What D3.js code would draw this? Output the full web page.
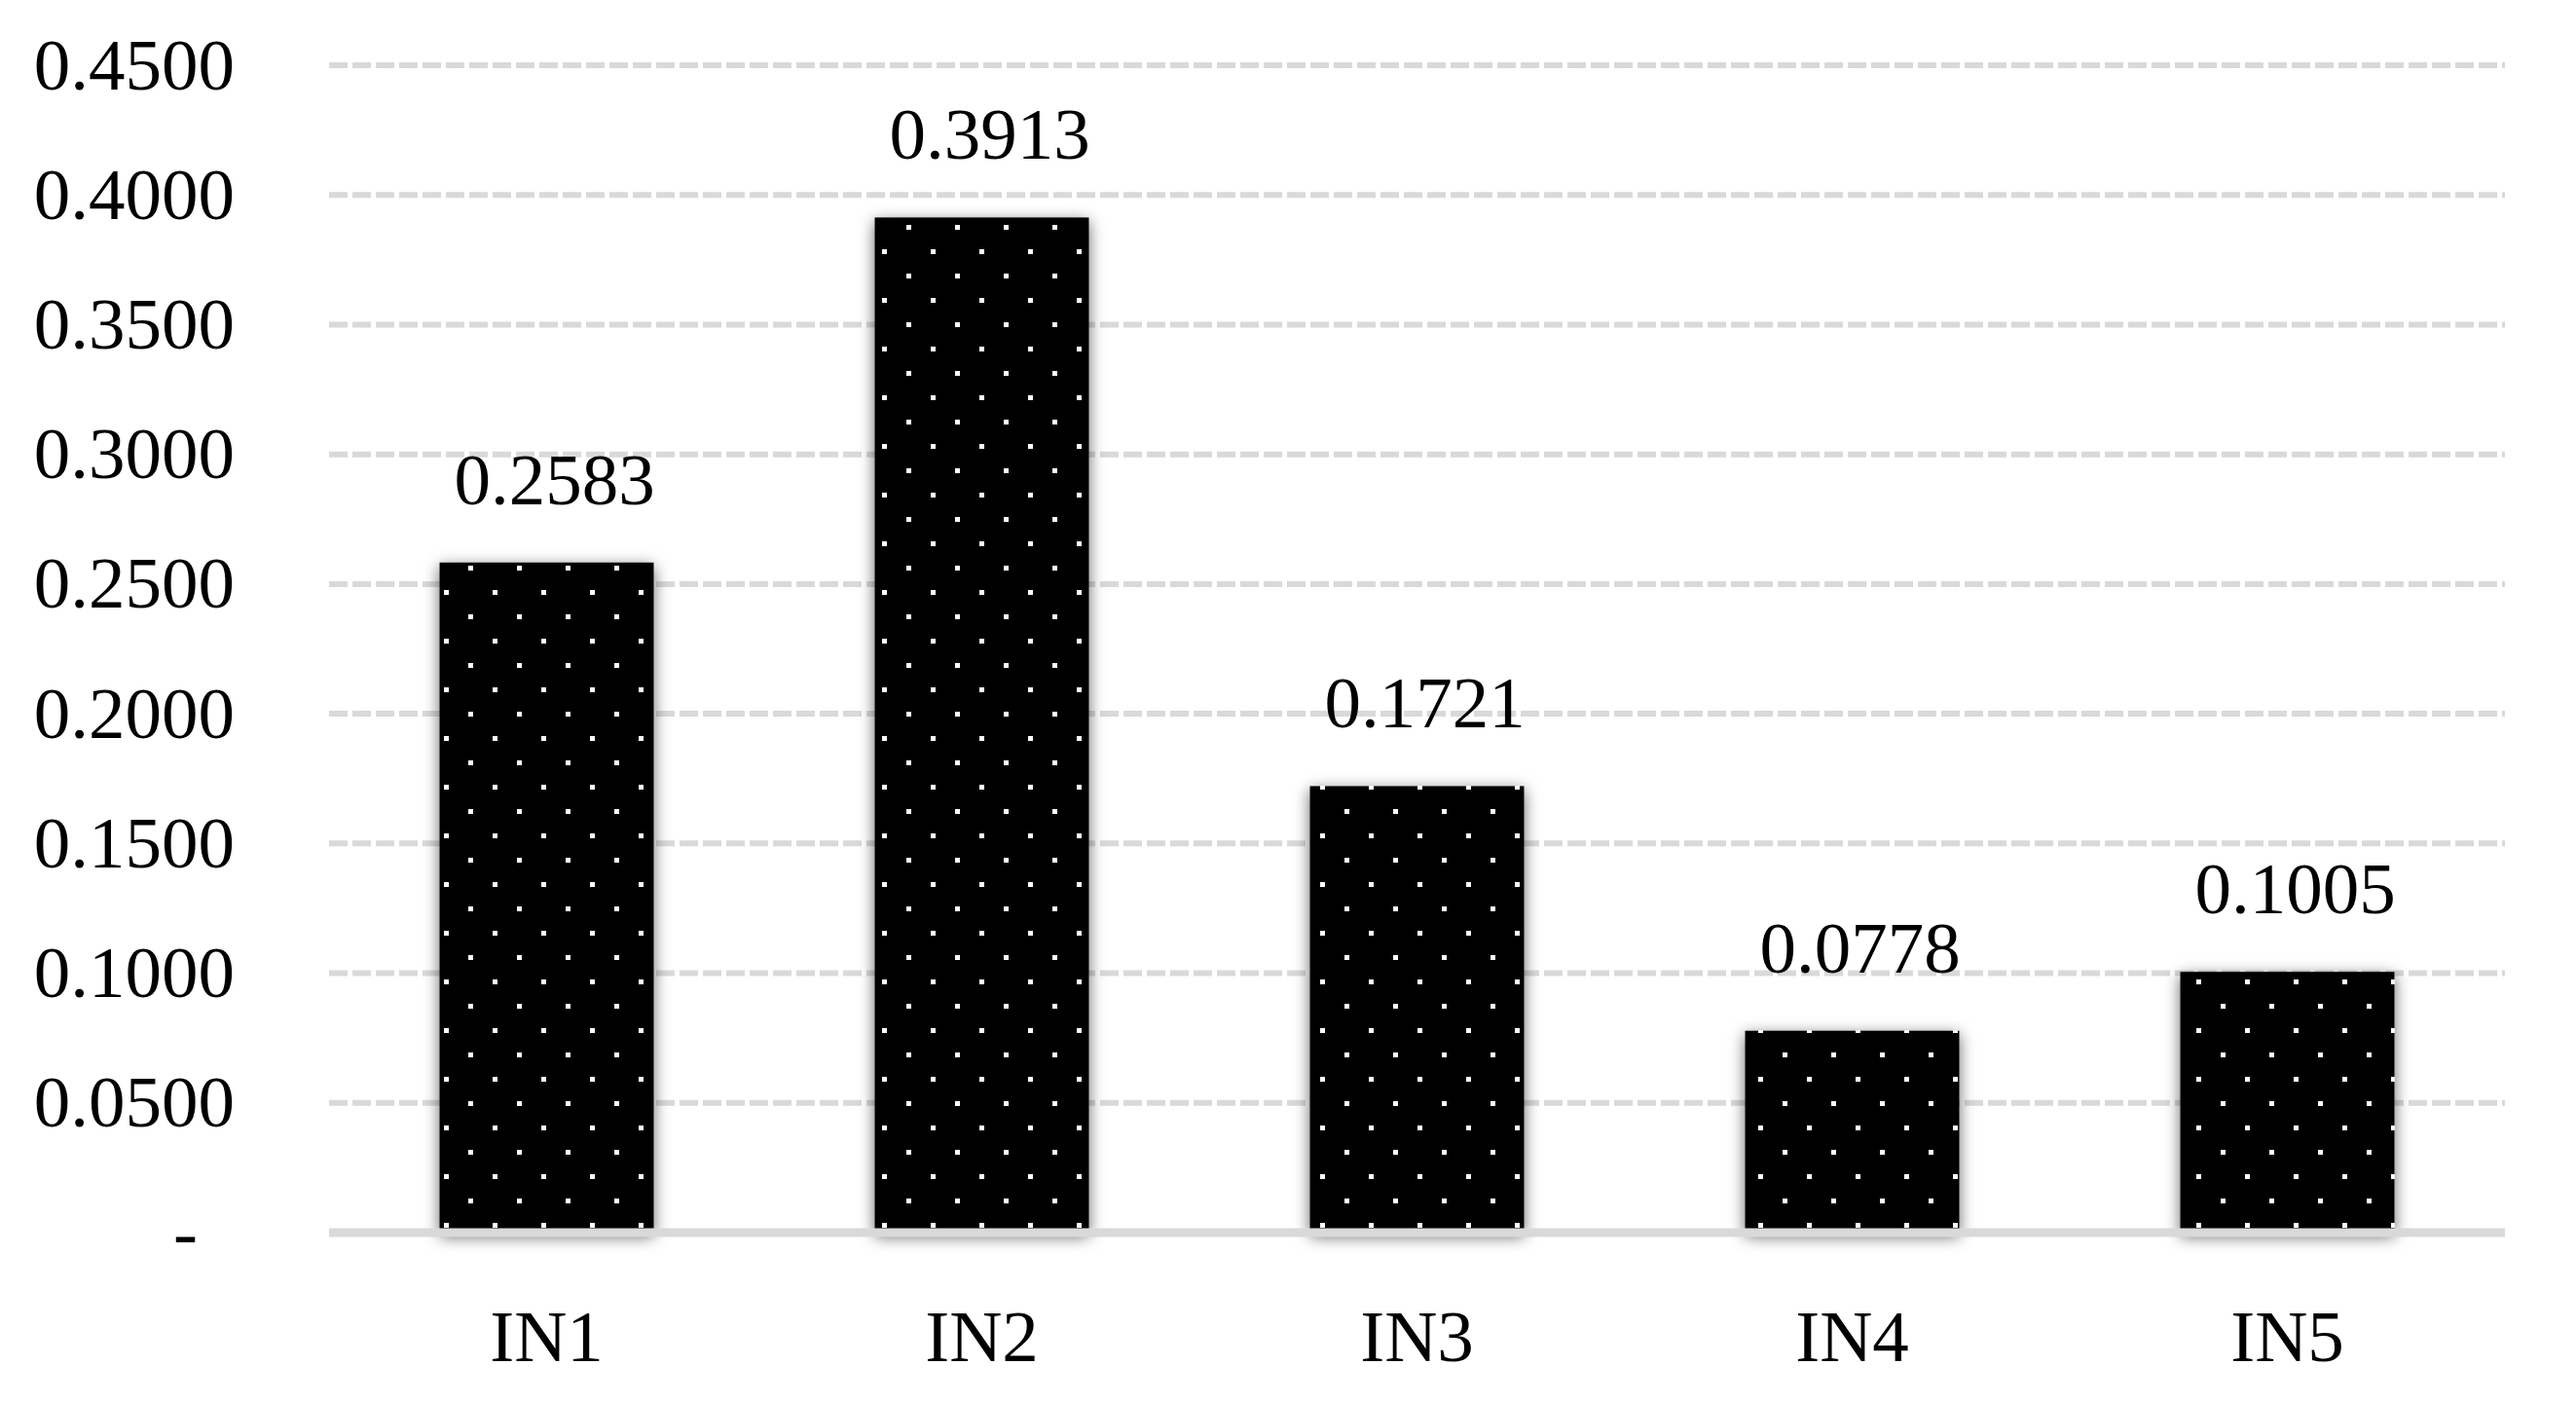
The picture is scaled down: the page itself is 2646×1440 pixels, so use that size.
<!DOCTYPE html>
<html>
<head>
<meta charset="utf-8">
<script src="https://cdn.jsdelivr.net/npm/d3@7"></script>
<style>
  body { margin: 0; background: #fff; }
  text { font-family: "Palatino Linotype", "Book Antiqua", Palatino, "Liberation Serif", serif; fill: #000; }
</style>
</head>
<body>
<div id="chart"></div>
<script>
// values
const categories = ['IN1', 'IN2', 'IN3', 'IN4', 'IN5'];
const values = [0.2583, 0.3913, 0.1721, 0.0778, 0.1005];
const yTicks = [0, 0.05, 0.10, 0.15, 0.20, 0.25, 0.30, 0.35, 0.40, 0.45];

function drawChart(container) {
  const width = 2646;
  const height = 1440;
  const left = 338, right = 2573, top = 67, bottom = 1266;
  const fontSize = 75;

  const svg = d3.select(container).append('svg')
    .attr('width', width)
    .attr('height', height);

  const defs = svg.append('defs');

  // white dot pattern, anchored to the page like excel does it
  const pat = defs.append('pattern')
    .attr('id', 'dots')
    .attr('patternUnits', 'userSpaceOnUse')
    .attr('width', 50)
    .attr('height', 50);
  pat.append('rect').attr('width', 50).attr('height', 50).attr('fill', '#000');
  pat.append('rect').attr('x', 6).attr('y', 6).attr('width', 5).attr('height', 5).attr('fill', '#fff');
  pat.append('rect').attr('x', 31).attr('y', 31).attr('width', 5).attr('height', 5).attr('fill', '#fff');

  // soft shadow round the bars
  defs.append('filter')
    .attr('id', 'shadow')
    .attr('x', '-20%').attr('y', '-20%')
    .attr('width', '140%').attr('height', '140%')
    .append('feDropShadow')
    .attr('dx', 0).attr('dy', 4)
    .attr('stdDeviation', 8)
    .attr('flood-color', '#000')
    .attr('flood-opacity', 0.6);

  const x = d3.scaleBand()
    .domain(categories)
    .range([left, right])
    .paddingInner(0.508)
    .paddingOuter(0.254);

  const y = d3.scaleLinear()
    .domain([0, 0.45])
    .range([bottom, top]);

  // dashed gridlines (not the zero line)
  svg.append('g')
    .selectAll('line')
    .data(yTicks.filter(d => d > 0))
    .join('line')
    .attr('x1', left)
    .attr('x2', right)
    .attr('y1', d => y(d))
    .attr('y2', d => y(d))
    .attr('stroke', '#d9d9d9')
    .attr('stroke-width', 6)
    .attr('stroke-dasharray', '19 5');

  // y axis labels
  const yAxis = svg.append('g')
    .attr('transform', `translate(${left},0)`)
    .call(d3.axisLeft(y)
      .tickValues(yTicks)
      .tickSize(0)
      .tickPadding(97)
      .tickFormat(d => d === 0 ? '-' : d3.format('.4f')(d)));
  yAxis.select('.domain').remove();
  yAxis.selectAll('text')
    .attr('font-size', fontSize)
    .attr('font-family', null)
    .attr('dx', d => d === 0 ? -38 : 0);

  // bars
  svg.append('g')
    .selectAll('rect')
    .data(values)
    .join('rect')
    .attr('x', (d, i) => x(categories[i]))
    .attr('y', d => y(d))
    .attr('width', x.bandwidth())
    .attr('height', d => y(0) - y(d))
    .attr('fill', 'url(#dots)')
    .attr('filter', 'url(#shadow)');

  // value labels
  svg.append('g')
    .selectAll('text')
    .data(values)
    .join('text')
    .attr('x', (d, i) => x(categories[i]) + x.bandwidth() / 2 + 8)
    .attr('y', d => y(d) - 60)
    .attr('text-anchor', 'middle')
    .attr('font-size', fontSize)
    .text(d => d3.format('.4f')(d));

  // solid baseline on top of the bars
  svg.append('line')
    .attr('x1', left)
    .attr('x2', right)
    .attr('y1', y(0))
    .attr('y2', y(0))
    .attr('stroke', '#d9d9d9')
    .attr('stroke-width', 9);

  // category labels
  const xAxis = svg.append('g')
    .attr('transform', `translate(0,${bottom})`)
    .call(d3.axisBottom(x).tickSize(0).tickPadding(79));
  xAxis.select('.domain').remove();
  xAxis.selectAll('text')
    .attr('font-size', fontSize)
    .attr('font-family', null);
}

drawChart('#chart');
</script>
</body>
</html>
